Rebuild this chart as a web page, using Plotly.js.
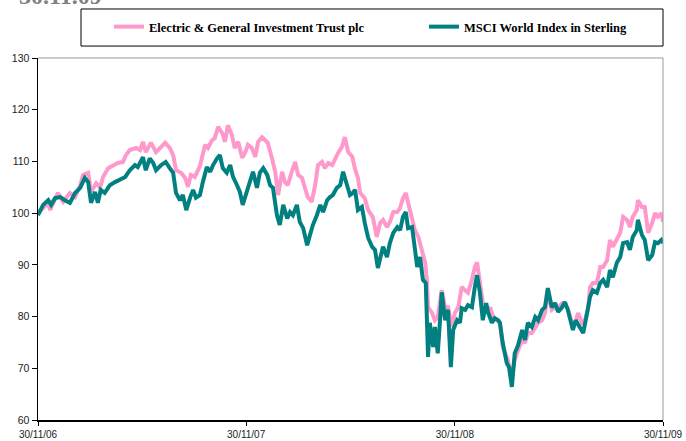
<!DOCTYPE html>
<html>
<head>
<meta charset="utf-8">
<script src="https://cdn.plot.ly/plotly-3.0.1.min.js"></script>
<style>html,body{margin:0;padding:0;background:#fff;}#chart{width:686px;height:441px;}</style>
</head>
<body>
<div id="chart"></div>
<script>
// Days since 30/11/06 and rebased values (30/11/06 = 100)
const tickDays = [0, 365, 731, 1096];
const tickLabels = ['30/11/06', '30/11/07', '30/11/08', '30/11/09'];

const egitName = 'Electric & General Investment Trust plc';
const msciName = 'MSCI World Index in Sterling';

const egitDays = [0,9,18,21,28,35,44,56,65,74,79,88,93,102,109,114,123,132,140,149,154,161,172,179,184,189,198,207,216,223,231,237,242,251,258,263,268,275,284,293,298,305,310,316,323,328,333,340,345,351,358,363,368,375,381,386,393,398,403,410,416,421,428,433,438,445,451,456,463,468,473,480,486,491,498,503,509,516,521,526,533,538,544,551,556,561,565,573,579,587,594,600,605,612,617,623,630,635,640,645,649,656,661,667,673,679,682,684,691,696,701,708,714,719,726,731,737,743,749,754,761,766,770,775,780,787,793,798,805,810,815,824,831,836,842,849,854,859,866,872,877,884,889,894,901,907,912,919,924,929,936,942,947,954,959,965,968,973,980,986,991,998,1003,1008,1015,1021,1026,1033,1038,1043,1050,1052,1059,1064,1070,1077,1082,1087,1093,1096];
const egitValues = [100.0,101.0,102.0,100.6,102.5,103.9,102.2,103.9,103.1,105.4,107.4,107.8,104.1,105.8,104.9,107.0,108.7,109.3,109.7,109.9,111.2,112.2,112.6,112.2,113.8,111.8,113.6,111.8,112.8,113.6,112.6,111.2,108.3,107.8,106.8,105.1,107.4,107.0,109.1,113.2,112.6,114.1,114.5,116.7,115.5,113.8,117.0,115.1,112.6,113.8,110.7,111.6,113.2,112.6,110.9,113.8,114.7,114.1,113.6,110.7,108.0,103.5,108.0,106.0,105.4,108.0,109.9,107.4,106.8,104.9,103.1,102.2,105.4,109.3,109.9,108.7,109.7,109.3,110.6,111.6,112.8,114.7,111.8,110.9,108.5,106.8,103.9,102.9,100.6,99.3,95.4,98.1,98.7,97.3,98.3,100.2,100.2,101.0,102.9,103.9,102.0,99.3,96.7,95.4,92.9,90.4,87.1,81.8,80.7,79.3,79.9,85.1,81.8,81.8,78.0,80.7,81.8,85.7,85.1,84.6,87.1,89.6,90.5,87.1,82.6,80.7,81.8,79.9,79.3,78.8,74.1,71.6,68.3,71.6,73.5,75.5,74.9,76.8,76.8,78.0,78.8,79.3,80.7,84.6,81.3,81.8,81.6,82.6,82.6,81.6,78.9,78.8,80.7,78.8,79.3,81.8,85.7,86.5,86.5,89.6,89.6,90.9,94.8,93.5,94.8,96.2,99.3,98.7,97.3,99.3,100.6,102.5,101.2,101.2,96.2,98.1,100.0,99.3,100.0,98.3];

const msciDays = [0,9,18,23,30,39,47,56,65,74,82,88,93,100,105,110,117,126,135,144,153,161,170,175,184,189,196,202,207,216,224,231,237,242,249,254,260,267,272,277,284,289,296,302,307,314,319,324,331,337,342,349,354,359,366,372,377,384,389,395,402,407,412,419,424,430,437,442,447,454,459,465,472,477,482,489,495,500,507,512,517,524,530,535,542,547,552,556,561,568,573,579,586,591,596,600,605,612,617,623,630,635,640,645,649,656,661,665,670,675,680,684,687,693,696,701,705,708,714,719,724,728,735,740,743,749,754,761,766,770,775,780,786,789,796,801,807,810,815,822,826,831,836,842,849,854,859,866,872,877,884,889,894,901,907,912,919,924,929,935,938,943,949,956,963,968,973,980,986,991,998,1003,1008,1015,1021,1026,1033,1038,1043,1050,1052,1059,1064,1070,1077,1082,1087,1093,1096];
const msciValues = [99.6,101.6,102.5,101.6,102.9,103.1,102.5,102.0,103.9,104.9,106.8,106.0,102.0,104.1,102.0,104.5,103.9,105.4,106.0,106.4,107.0,108.3,109.3,108.9,110.8,108.3,110.6,109.7,108.3,109.3,109.9,108.7,107.8,103.9,102.5,103.5,100.6,103.1,104.5,103.0,103.5,106.0,108.9,108.0,109.3,110.6,111.2,108.7,107.8,109.3,107.0,105.4,104.1,101.6,104.1,106.8,108.0,104.9,107.8,108.7,107.4,105.4,104.9,99.6,97.7,101.6,99.0,100.2,99.6,101.6,98.3,97.1,93.8,95.8,97.7,99.6,101.6,100.2,102.5,103.1,103.5,104.9,105.4,108.0,105.1,103.5,103.9,104.5,100.6,101.2,98.1,95.2,93.5,92.9,89.4,91.5,93.5,91.5,94.2,96.2,97.3,96.7,99.3,100.2,97.1,97.3,93.5,89.6,91.5,87.1,86.5,72.2,78.8,74.1,78.0,72.9,79.3,84.7,79.3,81.3,70.2,77.4,79.3,78.8,81.6,81.3,82.2,81.8,85.7,88.0,84.6,79.3,82.6,80.9,78.8,79.7,79.3,78.8,74.9,71.0,70.2,66.4,72.9,74.5,77.4,75.5,78.8,78.0,79.9,79.3,81.3,81.8,85.5,81.8,82.6,80.9,81.8,82.8,81.3,78.8,77.4,79.3,78.0,76.8,80.7,83.8,85.1,84.6,86.5,87.1,85.7,89.0,87.6,90.4,91.5,94.2,94.4,92.9,95.4,96.7,98.7,95.8,94.8,90.9,91.9,94.4,94.2,94.8,94.2];

const pageTitle = '30.11.09';

const traces = [
  {x: egitDays, y: egitValues, name: egitName, type: 'scatter', mode: 'lines',
   line: {color: '#FF99CC', width: 4}, legend: 'legend'},
  {x: msciDays, y: msciValues, name: msciName, type: 'scatter', mode: 'lines',
   line: {color: '#008080', width: 4}, legend: 'legend2'}
];

const legendFont = {family: 'Liberation Serif, Times New Roman, serif', size: 12.5, color: '#000', weight: 'bold'};

const layout = {
  width: 686, height: 441,
  margin: {l: 38, r: 23, t: 58, b: 21, pad: 0},
  paper_bgcolor: '#fff', plot_bgcolor: '#fff',
  font: {family: 'Liberation Sans, Arial, sans-serif', size: 10, color: '#222'},
  xaxis: {
    range: [0, 1096], tickvals: tickDays, ticktext: tickLabels,
    showgrid: false, zeroline: false, showline: true, linecolor: '#000', linewidth: 1.5,
    ticks: 'outside', ticklen: 4, tickcolor: '#000', tickwidth: 1,
    tickfont: {size: 10, color: '#222'}, fixedrange: true
  },
  yaxis: {
    range: [60, 130], dtick: 10, tick0: 60,
    showgrid: false, zeroline: false, showline: true, linecolor: '#000', linewidth: 1.5,
    ticks: 'outside', ticklen: 5, tickcolor: '#000', tickwidth: 1,
    tickfont: {size: 10.5, color: '#222'}, fixedrange: true
  },
  showlegend: true,
  legend: {x: 0.1136, xanchor: 'left', y: 1.0856, yanchor: 'middle', orientation: 'h',
           bgcolor: 'rgba(0,0,0,0)', borderwidth: 0, font: legendFont, itemwidth: 30},
  legend2: {x: 0.6176, xanchor: 'left', y: 1.0856, yanchor: 'middle', orientation: 'h',
           bgcolor: 'rgba(0,0,0,0)', borderwidth: 0, font: legendFont, itemwidth: 30},
  shapes: [
    {type: 'rect', xref: 'paper', yref: 'paper', x0: 0.0688, x1: 1.0, y0: 1.033, y1: 1.1354,
     line: {color: '#000', width: 1}, fillcolor: 'rgba(0,0,0,0)', layer: 'below'},
    {type: 'line', xref: 'paper', yref: 'paper', x0: 0, x1: 1, y0: 1, y1: 1,
     line: {color: '#999', width: 1}},
    {type: 'line', xref: 'paper', yref: 'paper', x0: 1, x1: 1, y0: 0, y1: 1,
     line: {color: '#999', width: 1}}
  ],
  annotations: [
    {text: pageTitle, xref: 'paper', yref: 'paper', x: -0.0336, xanchor: 'left',
     y: 1.1290, yanchor: 'bottom', showarrow: false,
     font: {family: 'Liberation Serif, Times New Roman, serif', size: 24, color: '#808080', weight: 'bold'}}
  ]
};

Plotly.newPlot('chart', traces, layout, {displayModeBar: false, staticPlot: true});
</script>
</body>
</html>
